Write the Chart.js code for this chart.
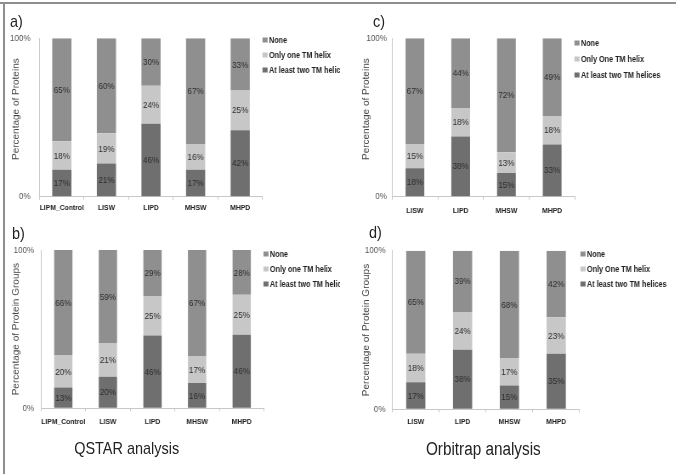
<!DOCTYPE html>
<html>
<head>
<meta charset="utf-8">
<script src="https://cdn.jsdelivr.net/npm/chart.js@4.4.1/dist/chart.umd.min.js"></script>
<style>
html,body{margin:0;padding:0;background:#fff;}
#page{position:relative;width:680px;height:474px;overflow:hidden;background:#fff;font-family:"Liberation Sans",Arial,sans-serif;}
#frameTop{position:absolute;left:0;top:2px;width:676px;height:2px;background:#8f8f8f;}
#frameLeft{position:absolute;left:3px;top:2px;width:2px;height:472px;background:#8f8f8f;}
#fig{position:absolute;left:0;top:0;width:800px;height:474px;transform:scaleX(0.85);transform-origin:0 0;}
#fig canvas{position:absolute;}
.lbl{position:absolute;font-size:17px;line-height:20px;color:#222;white-space:nowrap;}
.ttl{position:absolute;width:300px;text-align:center;line-height:22px;color:#222;white-space:nowrap;}
</style>
</head>
<body>
<div id="page">
  <div id="fig">
    <canvas id="cA" width="400" height="220" style="left:0;top:0"></canvas>
    <canvas id="cC" width="400" height="220" style="left:400px;top:0"></canvas>
    <canvas id="cB" width="400" height="254" style="left:0;top:220px"></canvas>
    <canvas id="cD" width="400" height="254" style="left:400px;top:220px"></canvas>
    <div class="lbl" style="left:11.8px;top:12px">a)</div>
    <div class="lbl" style="left:438.8px;top:12px">c)</div>
    <div class="lbl" style="left:14.1px;top:224px">b)</div>
    <div class="lbl" style="left:434.1px;top:223px">d)</div>
    <div class="ttl" style="left:-1px;top:438px;font-size:17px">QSTAR analysis</div>
    <div class="ttl" style="left:418.6px;top:438px;font-size:18px">Orbitrap analysis</div>
  </div>
  <div id="frameTop"></div>
  <div id="frameLeft"></div>
</div>
<script>
// ---------- data ----------
const qstarCategories = ["LIPM_Control", "LISW", "LIPD", "MHSW", "MHPD"];
const orbiCategories  = ["LISW", "LIPD", "MHSW", "MHPD"];

const qstarSeriesNames = ["At least two TM helices", "Only one TM helix", "None"];
const orbiSeriesNames  = ["At least two TM helices", "Only One TM helix", "None"];

// a) QSTAR, Percentage of Proteins
const aTwoPlus = [17, 21, 46, 17, 42];
const aOne     = [18, 19, 24, 16, 25];
const aNone    = [65, 60, 30, 67, 33];
// b) QSTAR, Percentage of Protein Groups
const bTwoPlus = [13, 20, 46, 16, 46];
const bOne     = [20, 21, 25, 17, 25];
const bNone    = [66, 59, 29, 67, 28];
// c) Orbitrap, Percentage of Proteins
const cTwoPlus = [18, 38, 15, 33];
const cOne     = [15, 18, 13, 18];
const cNone    = [67, 44, 72, 49];
// d) Orbitrap, Percentage of Protein Groups
const dTwoPlus = [17, 38, 15, 35];
const dOne     = [18, 24, 17, 23];
const dNone    = [65, 39, 68, 42];

const yTickLabels = ["0%", "100%"];

// ---------- styling ----------
const FAMILY = '"Liberation Sans", Arial, sans-serif';
const seriesColors = ["#6f6f6f", "#c7c7c7", "#8f8f8f"];

const segLabels = {
  id: 'segLabels',
  afterDatasetsDraw(chart) {
    const ctx = chart.ctx;
    ctx.save();
    ctx.font = '9.5px ' + FAMILY;
    ctx.fillStyle = '#2e2e2e';
    ctx.textAlign = 'center';
    ctx.textBaseline = 'middle';
    chart.data.datasets.forEach((ds, di) => {
      chart.getDatasetMeta(di).data.forEach((el, i) => {
        const p = el.getProps(['x', 'y', 'base'], true);
        ctx.fillText(ds.rawValues[i] + '%', p.x, (p.y + p.base) / 2 + 0.5);
      });
    });
    ctx.restore();
  }
};

const sideLegend = {
  id: 'sideLegend',
  afterDraw(chart, args, opts) {
    const ctx = chart.ctx;
    const ds = chart.data.datasets;
    ctx.save();
    ctx.font = 'bold 8.5px ' + FAMILY;
    ctx.textBaseline = 'middle';
    ctx.textAlign = 'left';
    for (let r = 0; r < ds.length; r++) {
      const d = ds[ds.length - 1 - r];
      const y = opts.y0 + r * opts.dy;
      ctx.fillStyle = d.backgroundColor;
      ctx.fillRect(opts.mx - 3, y - 2.5, 6, 5);
      ctx.fillStyle = '#222';
      ctx.fillText(d.label, opts.tx, y + 0.5);
    }
    ctx.restore();
  }
};

function makeChart(id, cats, series, names, yTitle, geo) {
  const canvas = document.getElementById(id);
  const W = canvas.width, H = canvas.height;
  const totals = cats.map((_, i) => series.reduce((s, arr) => s + arr[i], 0));
  const datasets = series.map((arr, k) => ({
    label: names[k],
    data: arr.map((v, i) => v / totals[i] * 100),
    rawValues: arr,
    backgroundColor: seriesColors[k],
    borderWidth: 0,
    barPercentage: geo.bar,
    categoryPercentage: 1
  }));
  return new Chart(canvas, {
    type: 'bar',
    data: { labels: cats, datasets },
    options: {
      responsive: false,
      animation: false,
      events: [],
      layout: { padding: { top: geo.top, left: geo.padL, right: W - geo.right, bottom: 0 } },
      plugins: {
        legend: { display: false },
        tooltip: { enabled: false },
        sideLegend: { mx: geo.mx, tx: geo.tx, y0: geo.ly0, dy: geo.ldy }
      },
      scales: {
        x: {
          stacked: true,
          grid: { display: true, drawOnChartArea: false, drawTicks: true, tickLength: 3, color: '#c8c8c8', offset: true },
          border: { color: '#c8c8c8' },
          ticks: { font: { size: 8, weight: 'bold', family: FAMILY }, color: '#222', padding: geo.xPad, maxRotation: 0, autoSkip: false },
          afterFit(s) { s.height = H - geo.bottom; }
        },
        y: {
          stacked: true,
          min: 0, max: 100,
          ticks: { stepSize: 100, callback: (v, i) => yTickLabels[i], font: { size: 9.5, family: FAMILY }, color: '#555', padding: geo.yPad },
          grid: { display: true, drawOnChartArea: false, drawTicks: false },
          border: { color: '#c8c8c8' },
          title: { display: true, text: ' '.repeat(geo.titleShift) + yTitle, font: { size: 10, family: FAMILY }, color: '#444', padding: { top: 4, bottom: 0 } },
          afterFit(s) { s.width = geo.left - geo.padL; }
        }
      }
    },
    plugins: [segLabels, sideLegend]
  });
}

makeChart('cA', qstarCategories, [aTwoPlus, aOne, aNone], qstarSeriesNames, 'Percentage of Proteins',
  { left: 46.5, right: 308.8, top: 38.3, bottom: 196.7, padL: 8.8, yPad: 10.5, xPad: 3.5, bar: 0.43,
    mx: 311.8, tx: 316.5, ly0: 40, ldy: 15, titleShift: 6 });
makeChart('cB', qstarCategories, [bTwoPlus, bOne, bNone], qstarSeriesNames, 'Percentage of Protein Groups',
  { left: 48.2, right: 310.6, top: 30, bottom: 188.3, padL: 8.8, yPad: 8, xPad: 5.5, bar: 0.41,
    mx: 312.9, tx: 317.6, ly0: 34, ldy: 15, titleShift: 0 });
makeChart('cC', orbiCategories, [cTwoPlus, cOne, cNone], orbiSeriesNames, 'Percentage of Proteins',
  { left: 61.2, right: 276.5, top: 38.3, bottom: 196.7, padL: 21.5, yPad: 6, xPad: 6, bar: 0.41,
    mx: 278.8, tx: 283.5, ly0: 43, ldy: 16, titleShift: 6 });
makeChart('cD', orbiCategories, [dTwoPlus, dOne, dNone], orbiSeriesNames, 'Percentage of Protein Groups',
  { left: 61.6, right: 281.9, top: 30.7, bottom: 189.3, padL: 21.5, yPad: 8, xPad: 5, bar: 0.41,
    mx: 285.9, tx: 290.6, ly0: 34, ldy: 15, titleShift: 0 });
</script>
</body>
</html>
